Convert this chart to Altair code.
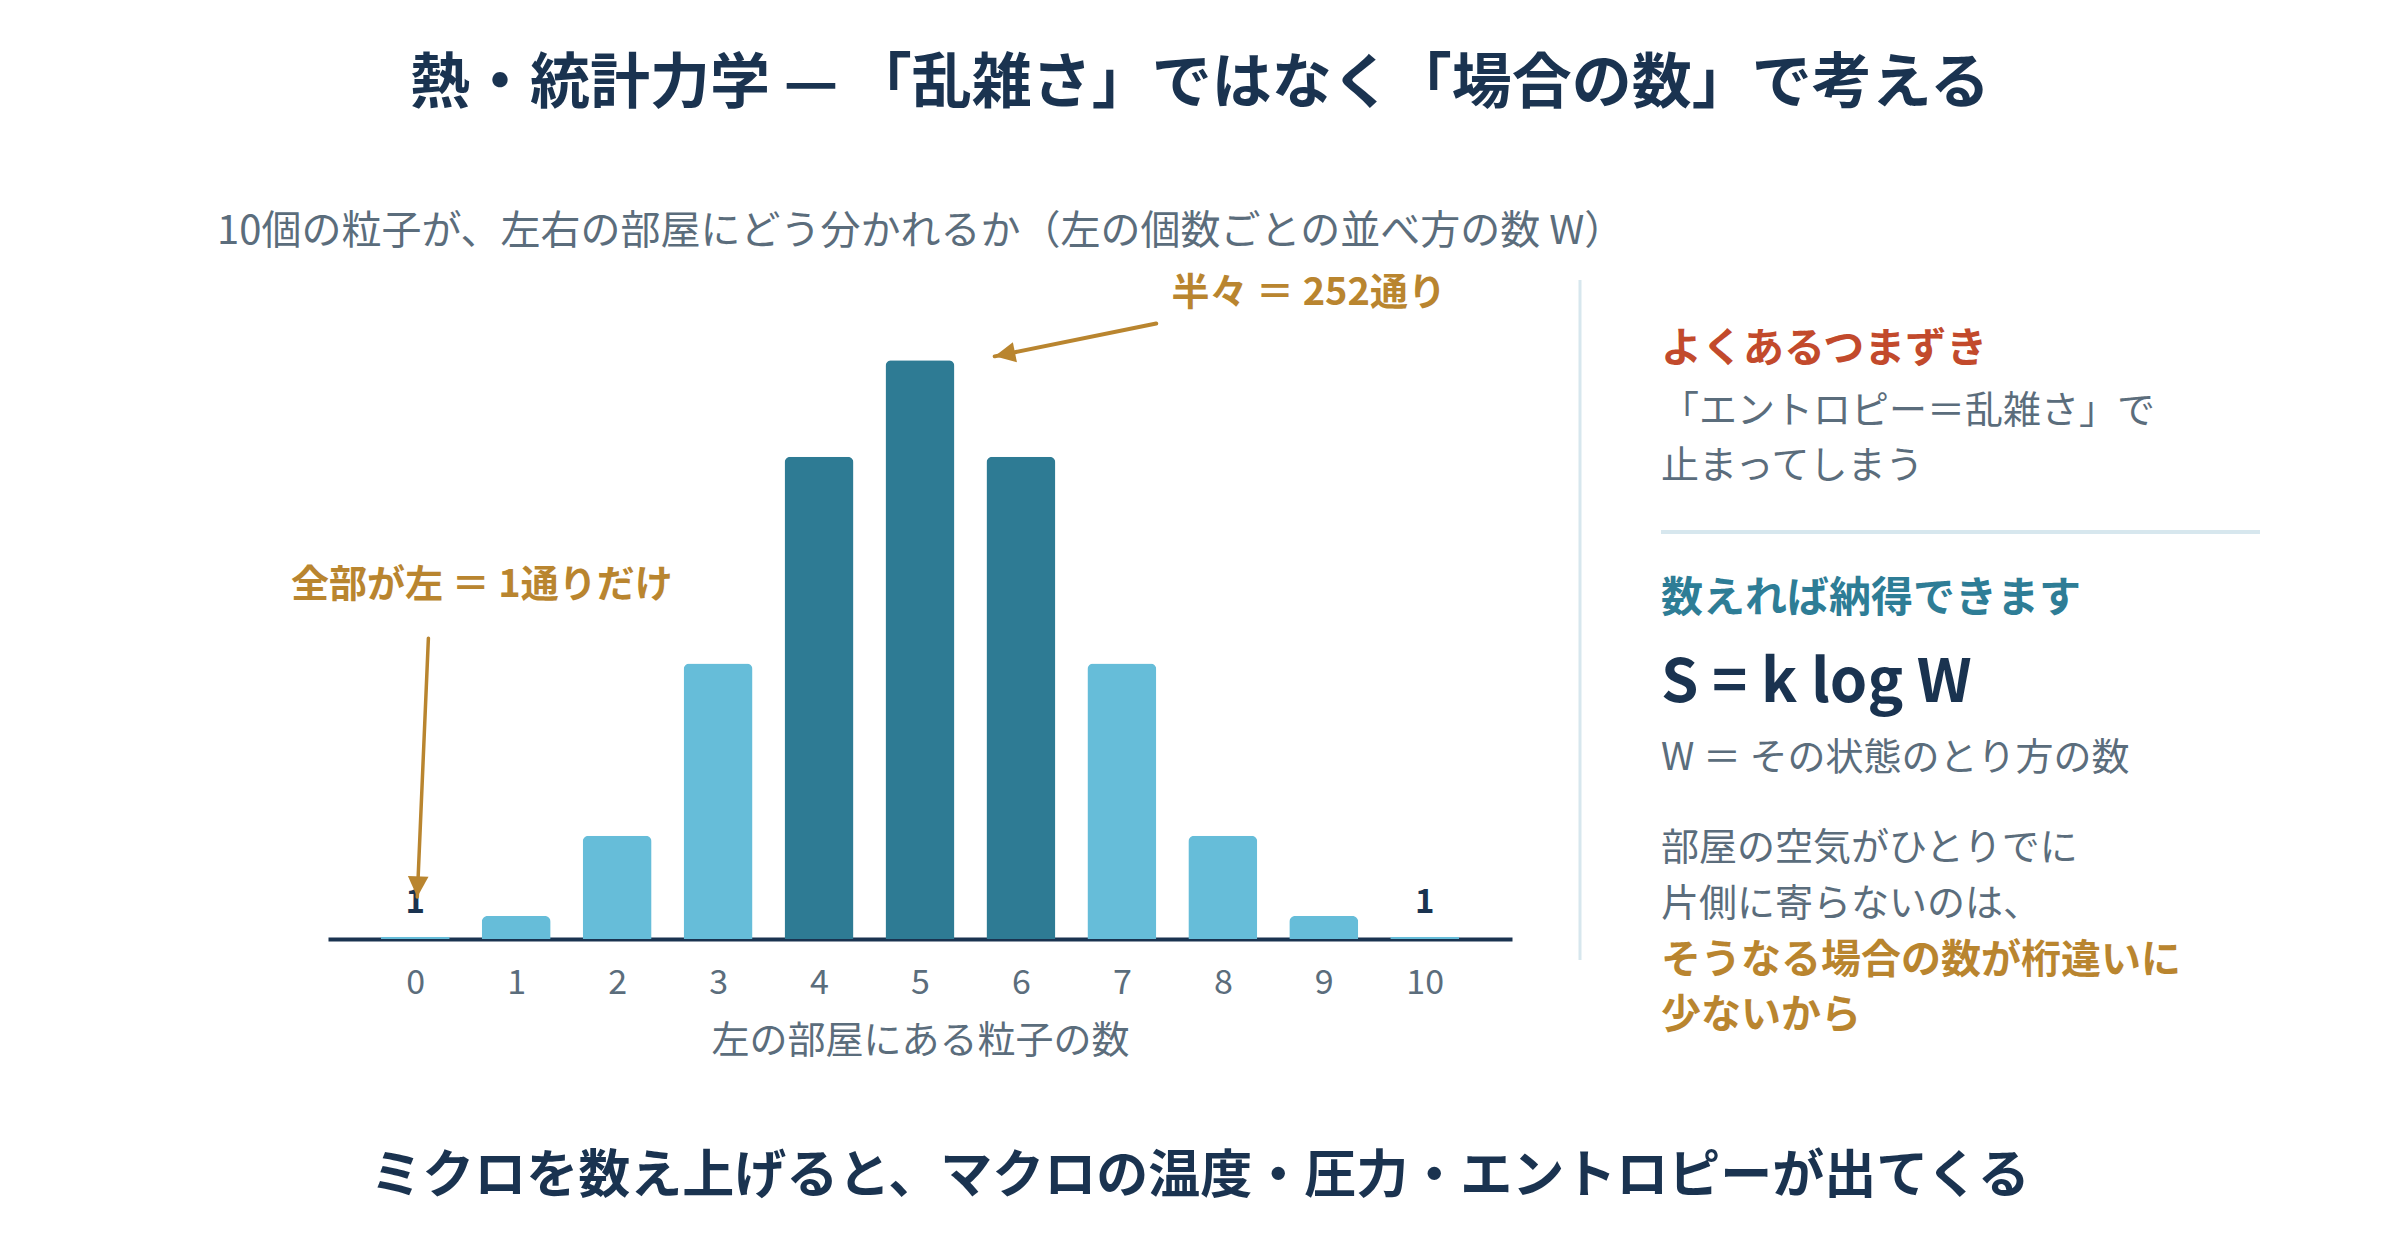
import altair as alt
import pandas as pd

# --- data -------------------------------------------------------------
counts = list(range(11))                                  # particles in the left room
ways = [1, 10, 45, 120, 210, 252, 210, 120, 45, 10, 1]    # W = C(10, k)
highlight = [4, 5, 6]                                     # near-even splits

# annotation arrows, in data units (particle count, W)
arrow_x = [7.34, 0.13]
arrow_y = [268.0, 131.0]
arrow_x2 = [5.74, 0.02]
arrow_y2 = [253.7, 18.3]
arrow_width = [4, 3.5]
arrow_angle = [258.6, 182.5]

ann_text = ["半々 ＝ 252通り", "全部が左 ＝ 1通りだけ"]
ann_x = [8.85, 0.66]
ann_y = [281.0, 153.5]

# --- style ------------------------------------------------------------
FONT = "Noto Sans CJK JP"
NAVY = "#1a3350"
GRAY = "#5b6d7c"
LIGHT = "#66bdd9"
DARK = "#2e7b94"
GOLD = "#b9852f"
RED = "#c24a2c"
TEAL = "#2e7d96"
RULE = "#d7e7ee"

W, H = 1184, 689
LEFT, TOP = 328, 250

bars_df = pd.DataFrame({"k": counts, "W": ways})
bars_df["hi"] = bars_df["k"].isin(highlight)

x_scale = alt.Scale(domain=[-0.815, 10.815], nice=False, zero=False)
y_scale = alt.Scale(domain=[0, 300], nice=False)

base = alt.Chart(bars_df)

bars = base.mark_bar(size=69, cornerRadiusTopLeft=6, cornerRadiusTopRight=6).encode(
    x=alt.X(
        "k:Q",
        scale=x_scale,
        axis=alt.Axis(
            values=counts,
            format="d",
            ticks=False,
            grid=False,
            domainColor=NAVY,
            domainWidth=4,
            labelFont=FONT,
            labelFontSize=34,
            labelColor=GRAY,
            labelPadding=27,
            title="左の部屋にある粒子の数",
            titleFont=FONT,
            titleFontSize=38,
            titleFontWeight="normal",
            titleColor=GRAY,
            titlePadding=22,
        ),
    ),
    y=alt.Y("W:Q", scale=y_scale, axis=None),
    color=alt.condition("datum.hi", alt.value(DARK), alt.value(LIGHT)),
)

ends = base.transform_filter("datum.W == 1").mark_text(
    font=FONT, fontSize=33, fontWeight="bold", color=NAVY, baseline="alphabetic", dy=-24
).encode(x="k:Q", y="W:Q", text="W:Q")

arrows_df = pd.DataFrame({
    "x": arrow_x, "y": arrow_y, "x2": arrow_x2, "y2": arrow_y2,
    "w": arrow_width, "a": arrow_angle,
})
arrow_lines = alt.Chart(arrows_df).mark_rule(color=GOLD, strokeCap="round").encode(
    x="x:Q", y="y:Q", x2="x2:Q", y2="y2:Q",
    strokeWidth=alt.StrokeWidth("w:Q", scale=None),
)
# arrowhead whose tip sits on the symbol origin, pointing up before rotation
head_shape = "M0,0L-0.5,1L0.5,1Z"
arrow_heads = alt.Chart(arrows_df).mark_point(
    shape=head_shape, filled=True, color=GOLD, opacity=1, size=1700
).encode(
    x="x2:Q", y="y2:Q",
    angle=alt.Angle("a:Q", scale=None),
)

ann_df = pd.DataFrame({"t": ann_text, "x": ann_x, "y": ann_y})
ann = alt.Chart(ann_df).mark_text(
    font=FONT, fontSize=38, fontWeight="bold", color=GOLD, baseline="middle", align="center"
).encode(x="x:Q", y="y:Q", text="t:N")


def label(text, x, y, size, color, weight="normal", align="left", baseline="middle"):
    return alt.Chart(pd.DataFrame({"t": [text]})).mark_text(
        font=FONT, fontSize=size, fontWeight=weight, color=color,
        align=align, baseline=baseline,
    ).encode(text="t:N", x=alt.value(x - LEFT), y=alt.value(y - TOP))


def hline(x1, x2, y, width, color):
    return alt.Chart(pd.DataFrame({"v": [0]})).mark_rule(color=color, strokeWidth=width).encode(
        x=alt.value(x1 - LEFT), x2=alt.value(x2 - LEFT), y=alt.value(y - TOP)
    )


def vline(x, y1, y2, width, color):
    return alt.Chart(pd.DataFrame({"v": [0]})).mark_rule(color=color, strokeWidth=width).encode(
        x=alt.value(x - LEFT), y=alt.value(y1 - TOP), y2=alt.value(y2 - TOP)
    )


texts = [
    label("熱・統計力学 — 「乱雑さ」ではなく「場合の数」で考える", 1200, 85, 60, NAVY, "bold", "center"),
    label("10個の粒子が、左右の部屋にどう分かれるか（左の個数ごとの並べ方の数 W）", 217, 232, 40, GRAY),
    label("よくあるつまずき", 1661, 350, 41, RED, "bold"),
    label("「エントロピー＝乱雑さ」で", 1661, 412, 38, GRAY),
    label("止まってしまう", 1661, 467, 38, GRAY),
    label("数えれば納得できます", 1661, 599, 42, TEAL, "bold"),
    label("S = k log W", 1661, 702, 60, NAVY, "bold", baseline="alphabetic"),
    label("W ＝ その状態のとり方の数", 1661, 759, 38, GRAY),
    label("部屋の空気がひとりでに", 1661, 849, 38, GRAY),
    label("片側に寄らないのは、", 1661, 905, 38, GRAY),
    label("そうなる場合の数が桁違いに", 1661, 961, 40, GOLD, "bold"),
    label("少ないから", 1661, 1016, 40, GOLD, "bold"),
    label("ミクロを数え上げると、マクロの温度・圧力・エントロピーが出てくる", 1200, 1177, 52, NAVY, "bold", "center"),
]

rules = [
    vline(1580, 280, 960, 3, RULE),
    hline(1661, 2260, 532, 4, RULE),
]

chart = alt.layer(
    *rules, bars, ends, arrow_lines, arrow_heads, ann, *texts
).properties(
    width=W,
    height=H,
    autosize=alt.AutoSizeParams(type="none"),
    padding={"left": LEFT, "top": TOP, "right": 2400 - LEFT - W, "bottom": 1240 - TOP - H},
    background="white",
).configure_view(stroke=None)

chart.save("out.html", embed_options={"renderer": "svg", "actions": False})
